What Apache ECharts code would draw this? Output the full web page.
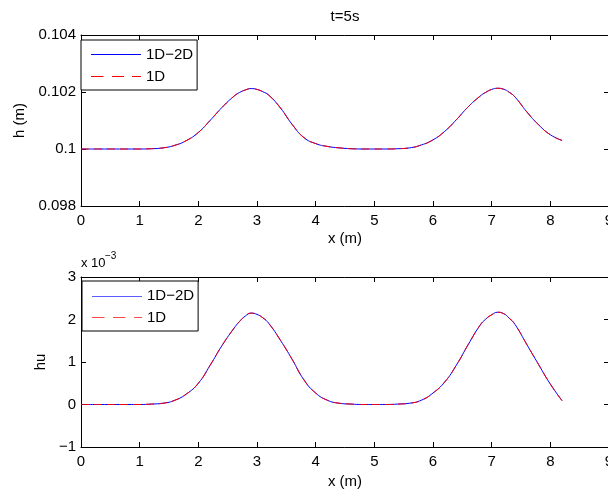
<!DOCTYPE html>
<html>
<head>
<meta charset="utf-8">
<script src="https://cdn.jsdelivr.net/npm/echarts@6/dist/echarts.min.js"></script>
<style>
html,body{margin:0;padding:0;background:#fff;}
#c{width:608px;height:490px;}
</style>
</head>
<body>
<div id="c"></div>
<script>
// ---- data ----
const titleText = 't=5s';
const xs = [0,0.2,0.4,0.6,0.8,1.0,1.2,1.4,1.6,1.8,2.0,2.2,2.4,2.6,2.7,2.8,2.9,3.0,3.1,3.2,3.4,3.6,3.8,4.0,4.2,4.4,4.6,4.8,5.0,5.2,5.4,5.6,5.8,6.0,6.2,6.4,6.6,6.8,6.9,7.0,7.1,7.2,7.3,7.4,7.6,7.8,8.0,8.2];
const h1D2D = [0.1,0.1,0.1,0.1,0.1,0.1,0.10001,0.10004,0.10013,0.10030,0.10058,0.10100,0.10145,0.10184,0.10198,0.10207,0.10212,0.10209,0.10201,0.10189,0.10144,0.10086,0.10040,0.10019,0.10009,0.10004,0.10001,0.1,0.1,0.1,0.10001,0.10004,0.10014,0.10032,0.10062,0.10103,0.10148,0.10185,0.10199,0.10209,0.10213,0.10210,0.10199,0.10182,0.10130,0.10085,0.10050,0.10030];
const h1D = [0.1,0.1,0.1,0.1,0.1,0.1,0.10001,0.10004,0.10013,0.10030,0.10058,0.10100,0.10145,0.10184,0.10198,0.10207,0.10212,0.10209,0.10201,0.10189,0.10144,0.10086,0.10040,0.10019,0.10009,0.10004,0.10001,0.1,0.1,0.1,0.10001,0.10004,0.10014,0.10032,0.10062,0.10103,0.10148,0.10185,0.10199,0.10209,0.10213,0.10210,0.10199,0.10182,0.10130,0.10085,0.10050,0.10030];
// hu values in units of 1e-3
const hu1D2D = [0,0,0,0,0,0,0.01,0.03,0.10,0.25,0.50,0.92,1.38,1.78,1.95,2.08,2.15,2.12,2.04,1.91,1.51,1.06,0.58,0.27,0.10,0.03,0.01,0,0,0,0.01,0.03,0.10,0.27,0.53,0.93,1.41,1.86,2.01,2.11,2.17,2.14,2.03,1.88,1.41,0.94,0.48,0.09];
const hu1D = [0,0,0,0,0,0,0.01,0.03,0.10,0.25,0.50,0.92,1.38,1.78,1.95,2.08,2.15,2.12,2.04,1.91,1.51,1.06,0.58,0.27,0.10,0.03,0.01,0,0,0,0.01,0.03,0.10,0.27,0.53,0.93,1.41,1.86,2.01,2.11,2.17,2.14,2.03,1.88,1.41,0.94,0.48,0.09];
const seriesNames = ['1D\u22122D', '1D'];
const xTicks = {min: 0, max: 9, interval: 1};
const hTicks = {min: 0.098, max: 0.104, interval: 0.002};
const huTicks = {min: -1, max: 3, interval: 1};
const xName = 'x (m)';
const hName = 'h (m)';
const huName = 'hu';
const huScaleBase = 'x 10';
const huScaleExp = '\u22123';

// ---- chart ----
const FONT = '"Liberation Sans", Arial, Helvetica, sans-serif';
const BLUE = '#0000ff', RED = '#ff0000';
const BLUE_LIGHT = '#5c5cff', RED_LIGHT = '#ff4a4a'; // lower legend samples look lighter in the reference
const DASH = [8, 5];
const ZW = '\u200b'; // marks the lower panel's series so each legend binds to its own pair
// legend line samples (50 x 1 shapes): solid and dashed
const ICON_SOLID = 'path://M0,0H50V1H0Z';
const ICON_DASHED = 'path://M0,0H12.5V1H0Z M21,0H33V1H21Z M41,0H50V1H41Z';
const pairs = (ys) => xs.map((x, i) => [x, ys[i]]);
const txt = {color: '#000', fontFamily: FONT, fontSize: 15};

function xAxes(gi, gap) {
  return [
    {type: 'value', gridIndex: gi, position: 'bottom', ...xTicks,
     name: xName, nameLocation: 'middle', nameGap: gap, nameTextStyle: txt,
     axisLine: {show: true, onZero: false, lineStyle: {color: '#000', width: 1}},
     axisTick: {show: true, inside: true, length: 5, lineStyle: {color: '#000'}},
     axisLabel: {...txt, margin: 7},
     splitLine: {show: false}},
    {type: 'value', gridIndex: gi, position: 'top', ...xTicks,
     axisLine: {show: true, onZero: false, lineStyle: {color: '#000', width: 1}},
     axisTick: {show: true, inside: true, length: 5, lineStyle: {color: '#000'}},
     axisLabel: {show: false}, splitLine: {show: false}}
  ];
}
function yAxes(gi, ticks, name, gap, fmt) {
  return [
    {type: 'value', gridIndex: gi, position: 'left', ...ticks,
     name: name, nameLocation: 'middle', nameGap: gap, nameTextStyle: txt,
     axisLine: {show: true, onZero: false, lineStyle: {color: '#000', width: 1}},
     axisTick: {show: true, inside: true, length: 5, lineStyle: {color: '#000'}},
     axisLabel: {...txt, margin: 5, formatter: fmt},
     splitLine: {show: false}},
    {type: 'value', gridIndex: gi, position: 'right', ...ticks,
     axisLine: {show: true, onZero: false, lineStyle: {color: '#000', width: 1}},
     axisTick: {show: true, inside: true, length: 5, lineStyle: {color: '#000'}},
     axisLabel: {show: false}, splitLine: {show: false}}
  ];
}
function lineSeries(name, data, xi, yi, color, dashed) {
  return {
    type: 'line', name: name, data: data, xAxisIndex: xi, yAxisIndex: yi,
    showSymbol: false, symbol: 'none', smooth: 0.5,
    lineStyle: {color: color, width: 1, type: dashed ? DASH : 'solid'},
    itemStyle: {color: color}, silent: true, z: dashed ? 3 : 2
  };
}
function legendAt(left, top, suffix, iconSolid, iconDashed) {
  return {
    orient: 'vertical', left: left, top: top, selectedMode: false,
    itemWidth: 50, itemHeight: 14, itemGap: 7, symbolKeepAspect: true,
    padding: [7, 4, 6, 10],
    borderColor: '#000', borderWidth: 1, borderRadius: 0, backgroundColor: '#fff',
    textStyle: txt,
    formatter: (n) => n.replace(ZW, ''),
    data: [
      {name: seriesNames[0] + suffix, icon: iconSolid, itemStyle: {color: BLUE, borderWidth: 0}},
      {name: seriesNames[1] + suffix, icon: iconDashed, itemStyle: {color: RED, borderWidth: 0}}
    ]
  };
}

const chart = echarts.init(document.getElementById('c'), null, {renderer: 'canvas'});
chart.setOption({
  animation: false,
  backgroundColor: '#fff',
  title: {text: titleText, left: 345, top: 9, textAlign: 'center', padding: 0,
          textStyle: {...txt, fontWeight: 'normal'}},
  grid: [
    {left: 81, top: 35, width: 528, height: 171, outerBoundsMode: 'none', containLabel: false},
    {left: 81, top: 277, width: 528, height: 170, outerBoundsMode: 'none', containLabel: false}
  ],
  xAxis: [...xAxes(0, 25), ...xAxes(1, 27)],
  yAxis: [
    ...yAxes(0, hTicks, hName, 53, (v) => String(+v.toFixed(3))),
    ...yAxes(1, huTicks, huName, 32, (v) => String(Math.round(v)).replace('-', '\u2212'))
  ],
  legend: [
    legendAt(81, 40, '', ICON_SOLID, ICON_DASHED),
    // lower legend: samples are drawn as overlay graphics below (its own icons kept blank)
    legendAt(82, 281, ZW, 'none', 'none')
  ],
  series: [
    lineSeries(seriesNames[0], pairs(h1D2D), 0, 0, BLUE, false),
    lineSeries(seriesNames[1], pairs(h1D), 0, 0, RED, true),
    lineSeries(seriesNames[0] + ZW, pairs(hu1D2D), 2, 2, BLUE, false),
    lineSeries(seriesNames[1] + ZW, pairs(hu1D), 2, 2, RED, true)
  ],
  graphic: [
    {type: 'text', left: 81, top: 257, style: {text: huScaleBase, fill: '#000', font: '13px ' + FONT}},
    {type: 'text', left: 105, top: 251, style: {text: huScaleExp, fill: '#000', font: '10px ' + FONT}},
    {type: 'line', z: 100, silent: true,
     shape: {x1: 92, y1: 296.5, x2: 142, y2: 296.5},
     style: {stroke: BLUE_LIGHT, lineWidth: 1}},
    {type: 'line', z: 100, silent: true,
     shape: {x1: 92, y1: 317.5, x2: 142, y2: 317.5},
     style: {stroke: RED_LIGHT, lineWidth: 1, lineDash: [12.5, 8.5]}}
  ]
});
</script>
</body>
</html>
